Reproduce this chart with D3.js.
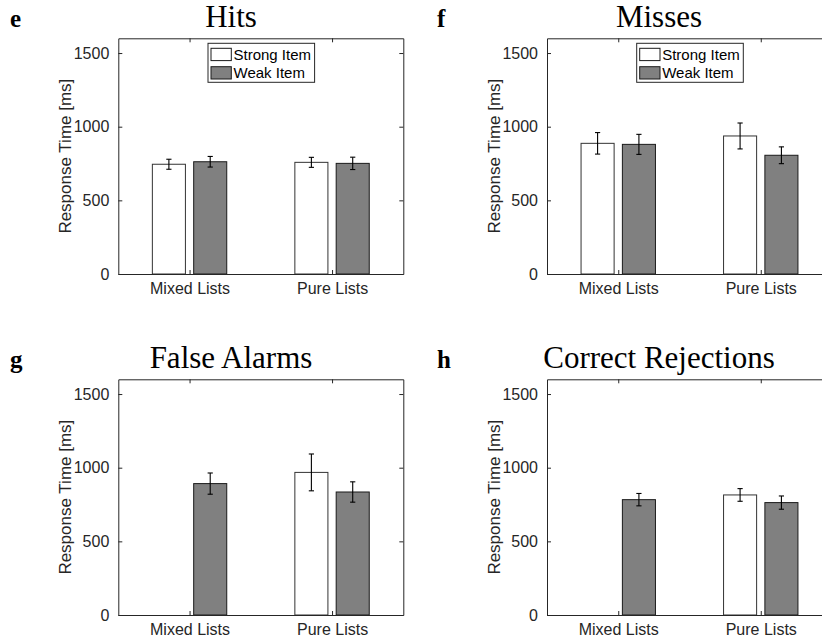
<!DOCTYPE html>
<html>
<head>
<meta charset="utf-8">
<script src="https://cdn.jsdelivr.net/npm/d3@7"></script>
<style>
  html, body { margin: 0; padding: 0; background: #fff; }
  svg text { fill: #262626; }
  .tick-lbl { font-family: "Liberation Sans", Arial, sans-serif; font-size: 16px; }
  .ylab { font-family: "Liberation Sans", Arial, sans-serif; font-size: 17px; }
  .title { font-family: "Liberation Serif", "Times New Roman", serif; font-size: 31px; fill: #000; }
  .letter { font-family: "Liberation Serif", "Times New Roman", serif; font-size: 25px; font-weight: bold; fill: #000; }
  .leg { font-family: "Liberation Sans", Arial, sans-serif; font-size: 15px; fill: #000; }
</style>
</head>
<body>
<div id="chart"></div>
<script>
// ---- data ----
const categories = ["Mixed Lists", "Pure Lists"];
const yTicks = [0, 500, 1000, 1500];
const seriesNames = ["Strong Item", "Weak Item"];

const panelLetters = ["e", "f", "g", "h"];
const panelTitles = ["Hits", "Misses", "False Alarms", "Correct Rejections"];

// mean RT [ms] per category, null = no bar
const hitsStrong = [745, 758];
const hitsStrongErr = [34, 34];
const hitsWeak = [762, 751];
const hitsWeakErr = [36, 42];

const missStrong = [887, 937];
const missStrongErr = [73, 88];
const missWeak = [880, 806];
const missWeakErr = [68, 57];

const faStrong = [null, 968];
const faStrongErr = [null, 125];
const faWeak = [892, 835];
const faWeakErr = [72, 69];

const crStrong = [null, 815];
const crStrongErr = [null, 43];
const crWeak = [783, 763];
const crWeakErr = [42, 45];

const panels = [
  { strong: hitsStrong, strongErr: hitsStrongErr, weak: hitsWeak, weakErr: hitsWeakErr, legend: true },
  { strong: missStrong, strongErr: missStrongErr, weak: missWeak, weakErr: missWeakErr, legend: true },
  { strong: faStrong, strongErr: faStrongErr, weak: faWeak, weakErr: faWeakErr, legend: false },
  { strong: crStrong, strongErr: crStrongErr, weak: crWeak, weakErr: crWeakErr, legend: false },
];

// ---- layout ----
const W = 822, H = 640;
const AX_W = 285, AX_H = 235.7;
const axLeft = [118.3, 547];
const axTop = [38.3, 379.3];
const titleX = [231, 659];
const letterX = [10, 437];
const AXIS_COL = "#262626";
const BAR_W = 0.232, BAR_OFF = 0.145;
const TICK_LEN = 4;

const svg = d3.select("#chart").append("svg")
  .attr("width", W).attr("height", H)
  .attr("viewBox", `0 0 ${W} ${H}`);

const x = d3.scaleLinear().domain([0.5, 2.5]).range([0, AX_W]);
const y = d3.scaleLinear().domain([0, 1600]).range([AX_H, 0]);

panels.forEach((p, i) => {
  const col = i % 2, row = Math.floor(i / 2);
  const g = svg.append("g").attr("transform", `translate(${axLeft[col]},${axTop[row]})`);

  // 제목 & 패널 문자
  svg.append("text").attr("class", "title")
    .attr("x", titleX[col]).attr("y", axTop[row] - 11.6)
    .attr("text-anchor", "middle").text(panelTitles[i]);
  svg.append("text").attr("class", "letter")
    .attr("x", letterX[col]).attr("y", axTop[row] - 11.3)
    .text(panelLetters[i]);

  // bars
  const bars = [];
  categories.forEach((c, k) => {
    if (p.strong[k] != null) bars.push({ pos: k + 1 - BAR_OFF, v: p.strong[k], e: p.strongErr[k], weak: false });
    if (p.weak[k] != null) bars.push({ pos: k + 1 + BAR_OFF, v: p.weak[k], e: p.weakErr[k], weak: true });
  });

  g.selectAll("rect.bar").data(bars).join("rect")
    .attr("class", "bar")
    .attr("x", d => x(d.pos - BAR_W / 2))
    .attr("width", d => x(d.pos + BAR_W / 2) - x(d.pos - BAR_W / 2))
    .attr("y", d => y(d.v))
    .attr("height", d => y(0) - y(d.v))
    .attr("fill", d => d.weak ? "#808080" : "#fff")
    .attr("stroke", d => d.weak ? "#1a1a1a" : "#333")
    .attr("stroke-width", 1);

  // error bars
  const capW = 2.6;
  const eb = g.selectAll("g.err").data(bars).join("g").attr("class", "err")
    .attr("stroke", "#000").attr("stroke-width", 1.1);
  eb.append("line")
    .attr("x1", d => x(d.pos)).attr("x2", d => x(d.pos))
    .attr("y1", d => y(d.v - d.e)).attr("y2", d => y(d.v + d.e));
  eb.append("line")
    .attr("x1", d => x(d.pos) - capW).attr("x2", d => x(d.pos) + capW)
    .attr("y1", d => y(d.v + d.e)).attr("y2", d => y(d.v + d.e));
  eb.append("line")
    .attr("x1", d => x(d.pos) - capW).attr("x2", d => x(d.pos) + capW)
    .attr("y1", d => y(d.v - d.e)).attr("y2", d => y(d.v - d.e));

  // axes (MATLAB style: box, ticks inward)
  const xAx = g.append("g").attr("transform", `translate(0,${AX_H})`)
    .call(d3.axisBottom(x).tickValues([1, 2]).tickFormat((d, j) => categories[j])
      .tickSizeInner(-TICK_LEN).tickSizeOuter(0));
  const xTop = g.append("g")
    .call(d3.axisTop(x).tickValues([1, 2]).tickFormat("")
      .tickSizeInner(-TICK_LEN).tickSizeOuter(0));
  const yAx = g.append("g")
    .call(d3.axisLeft(y).tickValues(yTicks).tickFormat(d3.format("d"))
      .tickSizeInner(-TICK_LEN).tickSizeOuter(0).tickPadding(9));
  const yRight = g.append("g").attr("transform", `translate(${AX_W},0)`)
    .call(d3.axisRight(y).tickValues(yTicks).tickFormat("").tickSizeInner(-TICK_LEN).tickSizeOuter(0));

  [xAx, xTop, yAx, yRight].forEach(a => {
    a.selectAll("path.domain").attr("stroke", AXIS_COL).attr("stroke-width", 1);
    a.selectAll(".tick line").attr("stroke", AXIS_COL).attr("stroke-width", 1);
    a.selectAll(".tick text").attr("class", "tick-lbl").attr("fill", AXIS_COL);
  });
  xAx.selectAll(".tick text").attr("dy", "0.71em").attr("y", 9);

  // y 축 라벨
  g.append("text").attr("class", "ylab")
    .attr("transform", `translate(${-47.5},${AX_H / 2}) rotate(-90)`)
    .attr("text-anchor", "middle")
    .text("Response Time [ms]");

  // legend
  if (p.legend) {
    const lw = 106.6, lh = 39;
    const lg = g.append("g").attr("transform", `translate(${AX_W / 2 - lw / 2 + 0.5},5)`);
    lg.append("rect").attr("width", lw).attr("height", lh)
      .attr("fill", "#fff").attr("stroke", AXIS_COL).attr("stroke-width", 1);
    seriesNames.forEach((s, k) => {
      lg.append("rect")
        .attr("x", 3).attr("y", 5 + k * 18.4)
        .attr("width", 20.3).attr("height", 12.3)
        .attr("fill", k ? "#808080" : "#fff")
        .attr("stroke", "#1a1a1a").attr("stroke-width", 1);
      lg.append("text").attr("class", "leg")
        .attr("x", 25.5).attr("y", 16.5 + k * 18.4)
        .text(s);
    });
  }
});
</script>
</body>
</html>
